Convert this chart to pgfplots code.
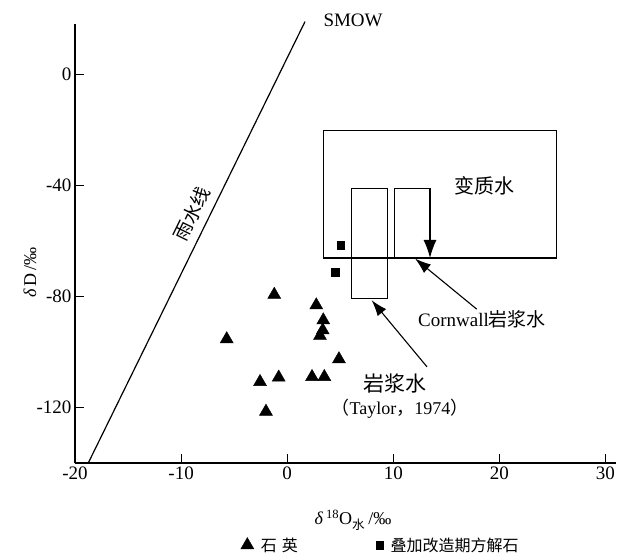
\documentclass[border=0pt]{standalone}
\usepackage{pgfplots}
\pgfplotsset{compat=1.18}
\usepackage{fontspec}
\setmainfont{Liberation Serif}
\newfontfamily\cjk{Noto Sans CJK SC}
\usetikzlibrary{arrows.meta}

\begin{document}
\begin{tikzpicture}
\path[use as bounding box] (-75bp,-92bp) rectangle (553bp,463bp);
\begin{axis}[
  at={(0,0)}, anchor=south west,
  scale only axis, width=541.1bp, height=438.9bp,
  xmin=-20, xmax=31, ymin=-140, ymax=18,
  axis x line=bottom, axis y line=left,
  axis line style={-, line width=1.8bp},
  xtick={-20,-10,0,10,20,30}, ytick={-120,-80,-40,0},
  tick style={line width=0.9bp, black},
  major tick length=9bp,
  tick align=inside,
  ticklabel style={font=\fontsize{19bp}{22bp}\selectfont},
  /pgf/number format/assume math mode=true,
  clip=false,
  legend style={draw=none, fill=none, at={(0.565,-0.187)}, anchor=center,
    font=\fontsize{16bp}{19bp}\selectfont, legend columns=2,
    /tikz/every odd column/.append style={column sep=5bp},
    /tikz/every even column/.append style={column sep=76bp}},
]
% quartz
\addplot[only marks, mark=triangle*, mark size=7.5bp, black, mark options={fill=black}]
coordinates {
(-1.22,-79.4) (2.74,-83.2) (3.40,-88.6) (3.35,-92.2) (3.09,-94.2)
(-5.70,-95.4) (4.88,-102.6) (-2.56,-110.8) (-0.80,-109.2) (2.34,-109.0)
(3.50,-109.0) (-2.00,-121.5)
};
\addlegendentry{{\cjk 石\hspace{5bp}英}}
% calcite
\addplot[only marks, mark=square*, mark size=3.9bp, black, mark options={fill=black}]
coordinates {(5.04,-61.6) (4.53,-71.2)};
\addlegendentry{{\cjk 叠加改造期方解石}}
% SMOW meteoric water line
\addplot[black, line width=1.2bp, forget plot] coordinates {(-18.75,-140) (1.68,18.9)};
% metamorphic water box
\addplot[black, line width=1.2bp, forget plot] coordinates {(3.40,-20.4) (25.40,-20.4) (25.40,-66.2) (3.40,-66.2)} -- cycle;
% magmatic water box (Taylor 1974)
\addplot[black, line width=1.2bp, forget plot] coordinates {(6.08,-41.2) (9.43,-41.2) (9.43,-80.8) (6.08,-80.8)} -- cycle;
% Cornwall box with arrow
\addplot[black, line width=1.2bp, forget plot, -{Latex[length=18bp,width=13bp]}] coordinates {(10.09,-66.2) (10.09,-41.2) (13.46,-41.2) (13.46,-66.2)};
% pointer arrows
\addplot[black, line width=1.1bp, forget plot, -{Latex[length=16bp,width=11bp]}] coordinates {(17.86,-84.6) (12.05,-66.4)};
\addplot[black, line width=1.1bp, forget plot, -{Latex[length=16bp,width=11bp]}] coordinates {(13.18,-105.4) (7.96,-81.4)};
% labels
\node[anchor=west, font=\fontsize{19bp}{22bp}\selectfont] at (axis cs:3.09,19.2) {SMOW};
\node[font=\fontsize{20bp}{24bp}\selectfont\cjk] at (axis cs:18.64,-40.2) {变质水};
\node[font=\fontsize{19bp}{22bp}\selectfont] at (axis cs:18.36,-88.3) {Cornwall{\cjk 岩浆水}};
\node[font=\fontsize{21bp}{24bp}\selectfont\cjk] at (axis cs:10.16,-111.5) {岩浆水};
\node[font=\fontsize{18bp}{22bp}\selectfont] at (axis cs:10.63,-120.5) {{\cjk （}Taylor{\cjk ，}1974{\cjk ）}};
\node[rotate=64, inner sep=0pt, font=\fontsize{19bp}{22bp}\selectfont\cjk] at (axis cs:-9.0,-50.4) {雨水线};
\node[font=\fontsize{18bp}{22bp}\selectfont] at (axis cs:6.2,-160.5) {{\itshape δ}\,\textsuperscript{18}O\textsubscript{\cjk 水}\,/‰};
\node[rotate=90, font=\fontsize{18bp}{22bp}\selectfont] at (axis cs:-24.24,-71.5) {{\itshape δ}\,D\,/‰};
\end{axis}
\end{tikzpicture}
\end{document}
